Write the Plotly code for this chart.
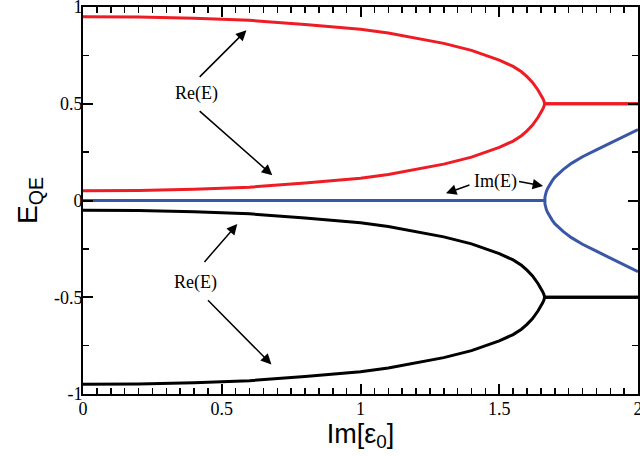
import plotly.graph_objects as go

# Data
x_re = [0.0, 0.2, 0.4, 0.6, 0.8, 0.9, 1.0, 1.1, 1.2, 1.3, 1.4, 1.45, 1.5, 1.55, 1.58, 1.6, 1.62, 1.64, 1.65, 1.656, 1.66, 1.663, 1.664, 1.8, 2.0]
re_upper = [0.950, 0.948, 0.942, 0.931, 0.910, 0.898, 0.885, 0.866, 0.840, 0.812, 0.776, 0.752, 0.725, 0.693, 0.665, 0.640, 0.610, 0.570, 0.548, 0.530, 0.518, 0.508, 0.50, 0.50, 0.50]
re_lower = [0.050, 0.052, 0.058, 0.069, 0.090, 0.102, 0.115, 0.134, 0.160, 0.188, 0.224, 0.248, 0.275, 0.307, 0.335, 0.360, 0.390, 0.430, 0.452, 0.470, 0.482, 0.492, 0.50, 0.50, 0.50]
blk_upper = [-0.050, -0.052, -0.058, -0.069, -0.090, -0.102, -0.115, -0.134, -0.160, -0.188, -0.224, -0.248, -0.275, -0.307, -0.335, -0.360, -0.390, -0.430, -0.452, -0.470, -0.482, -0.492, -0.50, -0.50, -0.50]
blk_lower = [-0.950, -0.948, -0.942, -0.931, -0.910, -0.898, -0.885, -0.866, -0.840, -0.812, -0.776, -0.752, -0.725, -0.693, -0.665, -0.640, -0.610, -0.570, -0.548, -0.530, -0.518, -0.508, -0.50, -0.50, -0.50]

x_im = [0.0, 1.664, 1.665, 1.667, 1.670, 1.675, 1.68, 1.69, 1.70, 1.715, 1.73, 1.76, 1.80, 1.85, 1.90, 1.95, 2.0]
im_upper = [0.0, 0.0, 0.020, 0.035, 0.048, 0.064, 0.078, 0.100, 0.120, 0.142, 0.160, 0.192, 0.226, 0.262, 0.297, 0.332, 0.366]
im_lower = [0.0, 0.0, -0.020, -0.035, -0.048, -0.064, -0.078, -0.100, -0.120, -0.142, -0.160, -0.192, -0.226, -0.262, -0.297, -0.332, -0.368]

x_ticks = [0, 0.5, 1, 1.5, 2]
x_ticktext = ["0", "0.5", "1", "1.5", "2"]
y_ticks = [-1, -0.5, 0, 0.5, 1]
y_ticktext = ["-1", "-0.5", "0", "0.5", "1"]

RED = "#ee1c25"
BLUE = "#3a57a7"
BLACK = "#000000"

fig = go.Figure()
for xs, ys, c in [
    (x_re, re_upper, RED), (x_re, re_lower, RED),
    (x_im, im_upper, BLUE), (x_im, im_lower, BLUE),
    (x_re, blk_upper, BLACK), (x_re, blk_lower, BLACK),
]:
    fig.add_trace(go.Scatter(x=xs, y=ys, mode="lines", line=dict(color=c, width=3),
                             showlegend=False, hoverinfo="skip"))

# labels and arrows
labels = [("Re(E)", 0.410, 0.554), ("Re(E)", 0.406, -0.423), ("Im(E)", 1.485, 0.100)]
arrows = [
    ((0.415, 0.631), (0.589, 0.880)),
    ((0.415, 0.469), (0.682, 0.131)),
    ((0.433, -0.325), (0.556, -0.122)),
    ((0.445, -0.508), (0.679, -0.847)),
    ((1.398, 0.083), (1.308, 0.037)),
    ((1.566, 0.100), (1.658, 0.075)),
]
for t, x, y in labels:
    fig.add_annotation(x=x, y=y, text=t, showarrow=False,
                       font=dict(family="Liberation Serif", size=18, color="black"))
for (tx, ty), (hx, hy) in arrows:
    fig.add_annotation(x=hx, y=hy, ax=tx, ay=ty, xref="x", yref="y", axref="x", ayref="y",
                       text="", showarrow=True, arrowhead=2, arrowsize=1.4, arrowwidth=1.5,
                       arrowcolor="black")

axis_common = dict(
    showgrid=False, zeroline=False, showline=True, linecolor="black", linewidth=2,
    mirror="allticks", ticks="inside", ticklen=10, tickwidth=2, tickcolor="black",
    tickfont=dict(family="Liberation Serif", size=18, color="black"),
    automargin=False, ticklabeloverflow="allow",
)
fig.update_xaxes(range=[0, 2], tickvals=x_ticks, ticktext=x_ticktext, ticklabelstandoff=-3,
                 minor=dict(dtick=0.05, ticklen=6, tickwidth=1.5, tickcolor="black", ticks="inside", showgrid=False),
                 title=dict(text="Im[ε<sub>0</sub>]", font=dict(family="Liberation Sans", size=27, color="black"), standoff=0),
                 **axis_common)
fig.update_yaxes(range=[-1, 1], tickvals=y_ticks, ticktext=y_ticktext, ticklabelstandoff=-5,
                 minor=dict(dtick=0.25, ticklen=6, tickwidth=1.5, tickcolor="black", ticks="inside", showgrid=False),
                 title=dict(text="E<sub>QE</sub>", font=dict(family="Liberation Sans", size=28, color="black"), standoff=8),
                 **axis_common)
fig.update_layout(width=640, height=456, margin=dict(l=83, r=2, t=7, b=62),
                  plot_bgcolor="white", paper_bgcolor="white")
fig.write_html("out.html", config={"displayModeBar": False, "staticPlot": True},
               post_script="document.body.style.margin='0';document.body.style.overflow='hidden';")
